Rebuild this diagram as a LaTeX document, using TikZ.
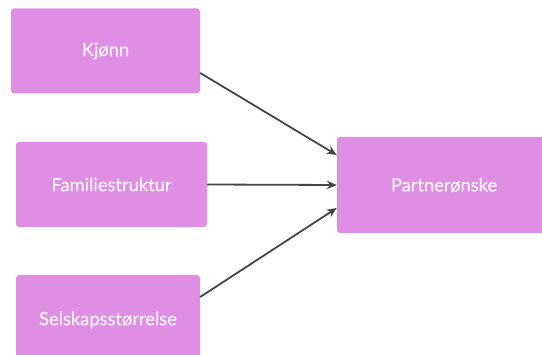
\documentclass[tikz,border=0pt]{standalone}
\usepackage{fontspec}
\setmainfont{Lato}[FakeBold=0.6]
\usetikzlibrary{arrows.meta}
\definecolor{boxpink}{HTML}{DE8EE3}
\definecolor{txtpink}{HTML}{FBEEFB}
\definecolor{arrowgray}{HTML}{454545}
\begin{document}
\begin{tikzpicture}[x=1pt,y=-1pt,
  pbox/.style={fill=boxpink,draw=none,rounded corners=3pt,text=txtpink,font=\fontsize{18.3}{21}\selectfont,inner sep=0pt,anchor=center},
  conn/.style={draw=arrowgray,line width=1.8pt,-{Stealth[length=10pt,width=8.5pt]}}]
\useasboundingbox (0,0) rectangle (542,355);
\clip (0,0) rectangle (542,355);
\node[pbox,minimum width=189pt,minimum height=85pt] (kj) at (105.5,51) {Kjønn};
\node[pbox,minimum width=191pt,minimum height=85pt] (fa) at (111.5,184.5) {Familiestruktur};
\node[pbox,minimum width=184pt,minimum height=90pt] (se) at (108,320) {Selskapsstørrelse};
\node[pbox,minimum width=214pt,minimum height=96pt] (pa) at (444,185) {Partnerønske};
\coordinate (kjs) at (kj.east |- 0,73);
\coordinate (ses) at (se.east |- 0,297);
\coordinate (pa1) at (pa.west |- 0,155);
\coordinate (pa3) at (pa.west |- 0,208);
\draw[conn] (kjs) -- (pa1);
\draw[conn] (fa.east) -- (pa.west);
\draw[conn] (ses) -- (pa3);
\end{tikzpicture}
\end{document}
